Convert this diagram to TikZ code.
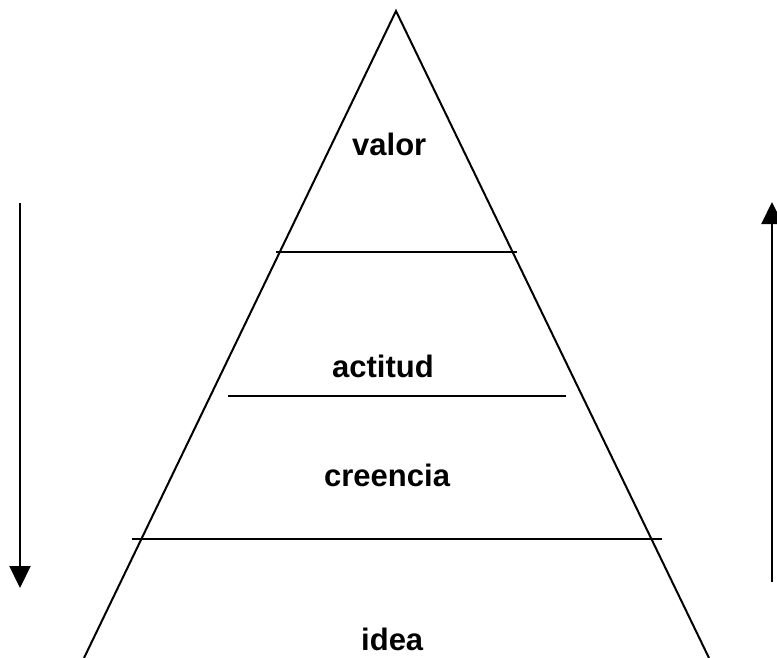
\documentclass[tikz,border=0pt]{standalone}
\usepackage{fontspec}
\setmainfont{Liberation Sans}
\usetikzlibrary{arrows.meta}
\tikzset{
  edge/.style={line width=2pt, line cap=butt},
  arr/.style={line width=2.2pt, -{Triangle[width=21pt,length=22pt]}},
  lbl/.style={font=\fontsize{31}{36}\selectfont\bfseries, anchor=base west, inner sep=0pt}
}
\begin{document}
\begin{tikzpicture}[x=1pt,y=-1pt]
\useasboundingbox (0,0) rectangle (777,657);
% triangle
\coordinate (apex) at (396,11);
\coordinate (bl) at (84,658);
\coordinate (br) at (709,658);
\draw[edge, line join=miter] (bl) -- (apex) -- (br);
% horizontal lines
\coordinate (l1a) at (276,252);
\coordinate (l1b) at (517,252);
\coordinate (l2a) at (228,396);
\coordinate (l2b) at (566,396);
\coordinate (l3a) at (132,539);
\coordinate (l3b) at (662,539);
\draw[edge] (l1a) -- (l1b);
\draw[edge] (l2a) -- (l2b);
\draw[edge] (l3a) -- (l3b);
% arrows
\coordinate (la) at (20,203);
\coordinate (lb) at (20,588);
\coordinate (ra) at (772,582);
\coordinate (rb) at (772,202);
\draw[arr] (la) -- (lb);
\draw[arr] (ra) -- (rb);
% labels
\node[lbl] (valor) at (352,155) {valor};
\node[lbl] (actitud) at (332,377) {actitud};
\node[lbl] (creencia) at (324,486) {creencia};
\node[lbl] (idea) at (361,650) {idea};
\end{tikzpicture}
\end{document}
